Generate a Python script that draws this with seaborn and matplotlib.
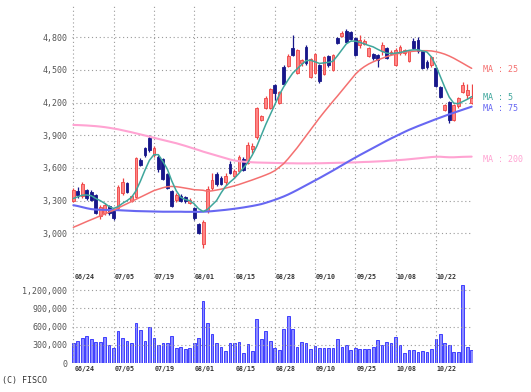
import numpy as np
import pandas as pd
import matplotlib
matplotlib.use("Agg")
import matplotlib.pyplot as plt
import seaborn as sns

# ---------------------------------------------------------------------------
# Data (daily candles, 06/24 .. 10/31)
# ---------------------------------------------------------------------------
tick_labels = ["06/24", "07/05", "07/19", "08/01", "08/15",
               "08/28", "09/10", "09/25", "10/08", "10/22"]
tick_index = [0, 9, 18, 27, 36, 45, 54, 63, 72, 81]

opens = [3300, 3385, 3340, 3395, 3382, 3352, 3155, 3185, 3250, 3200,
         3230, 3368, 3460, 3300, 3336, 3673, 3780, 3872, 3722, 3705,
         3680, 3545, 3390, 3306, 3345, 3330, 3280, 3230, 3085, 2900,
         3200, 3413, 3545, 3510, 3470, 3635, 3525, 3575, 3685, 3650,
         3770, 3885, 4040, 4150, 4150, 4360, 4200, 4530, 4540, 4698,
         4470, 4560, 4710, 4440, 4470, 4545, 4460, 4630, 4500, 4790,
         4815, 4860, 4850, 4790, 4730, 4740, 4630, 4650, 4637, 4670,
         4700, 4650, 4550, 4655, 4655, 4580, 4770, 4775, 4670, 4575,
         4545, 4515, 4345, 4135, 4205, 4040, 4165, 4300, 4270, 4195]
highs = [3420, 3425, 3475, 3410, 3400, 3362, 3262, 3276, 3262, 3212,
         3442, 3505, 3472, 3352, 3700, 3692, 3792, 3905, 3800, 3715,
         3690, 3555, 3400, 3370, 3360, 3345, 3320, 3242, 3095, 3120,
         3430, 3550, 3560, 3525, 3550, 3660, 3590, 3720, 3700, 3840,
         3830, 4160, 4090, 4260, 4335, 4370, 4310, 4545, 4645, 4821,
         4690, 4600, 4730, 4610, 4660, 4555, 4630, 4640, 4650, 4800,
         4860, 4873, 4860, 4800, 4820, 4780, 4710, 4660, 4645, 4760,
         4710, 4680, 4700, 4730, 4695, 4680, 4790, 4806, 4680, 4590,
         4630, 4525, 4355, 4185, 4215, 4185, 4250, 4390, 4375, 4370]
lows = [3290, 3320, 3325, 3310, 3292, 3178, 3128, 3170, 3170, 3120,
        3215, 3355, 3370, 3290, 3322, 3615, 3705, 3750, 3700, 3560,
        3490, 3405, 3245, 3290, 3285, 3275, 3270, 3120, 2990, 2865,
        3190, 3400, 3430, 3440, 3440, 3540, 3510, 3565, 3570, 3640,
        3740, 3870, 4030, 4140, 4140, 4225, 4190, 4360, 4530, 4625,
        4460, 4540, 4550, 4430, 4460, 4380, 4450, 4530, 4490, 4735,
        4800, 4750, 4775, 4630, 4700, 4730, 4620, 4590, 4530, 4640,
        4600, 4640, 4540, 4640, 4640, 4570, 4690, 4660, 4505, 4510,
        4530, 4340, 4240, 4120, 4010, 4030, 4155, 4290, 4230, 4185]
closes = [3395, 3350, 3455, 3322, 3306, 3190, 3245, 3260, 3184, 3140,
          3428, 3474, 3382, 3338, 3688, 3627, 3720, 3766, 3780, 3590,
          3500, 3413, 3255, 3352, 3292, 3295, 3302, 3140, 3005, 3100,
          3410, 3489, 3450, 3455, 3530, 3550, 3575, 3700, 3580, 3810,
          3800, 4148, 4078, 4240, 4322, 4285, 4295, 4372, 4628, 4640,
          4680, 4590, 4560, 4600, 4650, 4395, 4620, 4545, 4640, 4745,
          4840, 4760, 4785, 4640, 4775, 4770, 4700, 4610, 4591, 4730,
          4610, 4665, 4680, 4715, 4680, 4670, 4700, 4670, 4515, 4530,
          4620, 4350, 4255, 4175, 4040, 4175, 4240, 4360, 4315, 4240]

volumes = [336000, 363000, 416000, 443000, 405000, 347000, 347000, 427000, 293000, 245000,
           533000, 416000, 363000, 336000, 667000, 549000, 373000, 587000, 416000, 293000,
           336000, 336000, 453000, 256000, 267000, 240000, 256000, 336000, 416000, 1029000,
           656000, 485000, 336000, 272000, 203000, 336000, 325000, 352000, 176000, 309000,
           203000, 720000, 405000, 522000, 367000, 258000, 215000, 570000, 770000, 570000,
           269000, 355000, 339000, 242000, 285000, 258000, 258000, 258000, 258000, 393000,
           269000, 301000, 215000, 258000, 242000, 242000, 242000, 269000, 377000, 301000,
           350000, 339000, 430000, 301000, 161000, 215000, 215000, 178000, 204000, 178000,
           231000, 404000, 484000, 339000, 301000, 188000, 178000, 1290000, 274000, 226000]

ma5 = [3320, 3335, 3350, 3352, 3345, 3320, 3300, 3275, 3245, 3228,
       3245, 3275, 3300, 3330, 3390, 3480, 3580, 3670, 3722, 3722,
       3660, 3590, 3480, 3390, 3330, 3310, 3300, 3270, 3225, 3200,
       3220, 3260, 3300, 3370, 3430, 3470, 3505, 3550, 3600, 3650,
       3720, 3800, 3900, 4000, 4090, 4180, 4270, 4345, 4410, 4470,
       4510, 4550, 4585, 4590, 4575, 4560, 4565, 4570, 4580, 4630,
       4685, 4740, 4765, 4765, 4755, 4740, 4725, 4712, 4690, 4670,
       4655, 4650, 4655, 4660, 4670, 4680, 4685, 4685, 4675, 4665,
       4620, 4540, 4440, 4340, 4250, 4195, 4190, 4210, 4230, 4255]
ma25 = [3055, 3072, 3090, 3108, 3125, 3142, 3160, 3177, 3195, 3212,
        3232, 3252, 3272, 3292, 3312, 3332, 3352, 3372, 3392, 3405,
        3418, 3428, 3430, 3428, 3422, 3415, 3408, 3400, 3398, 3395,
        3385, 3390, 3397, 3405, 3415, 3425, 3436, 3448, 3462, 3476,
        3490, 3505, 3520, 3536, 3553, 3575, 3606, 3640, 3685, 3735,
        3785, 3840, 3895, 3950, 4005, 4060, 4112, 4162, 4212, 4260,
        4310, 4360, 4410, 4460, 4500, 4530, 4555, 4575, 4592, 4607,
        4622, 4635, 4645, 4655, 4662, 4668, 4672, 4675, 4677, 4677,
        4675, 4668, 4658, 4645, 4628, 4608, 4585, 4562, 4538, 4515]
ma75 = [3258, 3250, 3240, 3230, 3222, 3218, 3216, 3215, 3214, 3213,
        3212, 3210, 3208, 3206, 3204, 3203, 3202, 3201, 3200, 3199,
        3198, 3198, 3198, 3198, 3198, 3197, 3197, 3197, 3197, 3198,
        3200, 3203, 3207, 3211, 3215, 3220, 3225, 3231, 3237, 3244,
        3251, 3259, 3268, 3280, 3293, 3307, 3322, 3338, 3356, 3376,
        3397, 3419, 3441, 3463, 3485, 3507, 3530, 3553, 3576, 3600,
        3624, 3648, 3672, 3695, 3718, 3740, 3762, 3784, 3806, 3828,
        3850, 3871, 3891, 3911, 3931, 3950, 3967, 3984, 4000, 4016,
        4032, 4048, 4063, 4078, 4093, 4107, 4121, 4135, 4149, 4163]
ma200 = [3995, 3994, 3992, 3990, 3987, 3984, 3980, 3975, 3969, 3962,
         3955, 3946, 3937, 3928, 3918, 3908, 3898, 3888, 3877, 3867,
         3857, 3847, 3837, 3827, 3815, 3803, 3790, 3777, 3764, 3750,
         3738, 3726, 3714, 3702, 3690, 3678, 3668, 3662, 3658, 3655,
         3652, 3650, 3649, 3648, 3647, 3646, 3645, 3644, 3643, 3643,
         3642, 3642, 3642, 3642, 3643, 3643, 3644, 3645, 3646, 3647,
         3648, 3649, 3650, 3651, 3653, 3655, 3656, 3658, 3660, 3662,
         3664, 3667, 3670, 3673, 3676, 3680, 3684, 3688, 3692, 3696,
         3700, 3703, 3703, 3700, 3698, 3698, 3700, 3702, 3703, 3704]

if __name__ == '__main__':
    df = pd.DataFrame({"open": opens, "high": highs, "low": lows, "close": closes,
                       "volume": volumes, "ma5": ma5, "ma25": ma25,
                       "ma75": ma75, "ma200": ma200})
    df["idx"] = np.arange(len(df))

    sns.set_style("white")
    plt.rcParams['font.family'] = ['DejaVu Sans Mono']

    W, H = 531, 392
    fig = plt.figure(figsize=(W / 100, H / 100), dpi=100)
    left, right = 72, 473
    ax = fig.add_axes([left / W, 1 - 268 / H, (right - left) / W, 264 / H])
    axv = fig.add_axes([left / W, 1 - 363.3 / H, (right - left) / W, 95.3 / H])

    grid_kw = dict(color="#9a9a9a", linestyle=(0, (1, 2.5)), linewidth=0.8)
    lab_col = "#555555"

    # candles
    up = df["close"] >= df["open"]
    face = np.where(up, "#ff8585", "#17178a")
    edge = np.where(up, "#ee4444", "#17178a")
    ax.vlines(df["idx"], df["low"], df["high"], colors=edge, linewidth=0.9, zorder=2)
    ax.bar(df["idx"], (df["close"] - df["open"]).abs().clip(lower=8),
           bottom=df[["open", "close"]].min(axis=1), width=0.62,
           color=face, edgecolor=edge, linewidth=0.6, zorder=3)

    # moving averages
    ma_styles = [("ma200", "#ffa3d2", 1.5, "MA : 200", -22),
                 ("ma75", "#6767f2", 1.5, "MA : 75", -19),
                 ("ma25", "#f47070", 1.1, "MA : 25", -15),
                 ("ma5", "#3fa69c", 1.1, "MA : 5", -6)]
    for col, color, lw, label, dy in ma_styles:
        sns.lineplot(x="idx", y=col, data=df, color=color, linewidth=lw, ax=ax, zorder=4)
        ax.text(91.5, df[col].iloc[-1] + dy, label, color=color, fontsize=6,
                va="center", ha="left", clip_on=False)

    ax.set_xlim(-0.3, 89.3)
    ax.set_ylim(2681, 5106)
    ax.set_yticks([3000, 3300, 3600, 3900, 4200, 4500, 4800])
    ax.set_yticklabels([f"{v:,}" for v in [3000, 3300, 3600, 3900, 4200, 4500, 4800]])
    ax.set_xticks(tick_index)
    ax.set_xticklabels([])
    ax.grid(True, **grid_kw)
    ax.set_xlabel("")
    ax.set_ylabel("")

    # volume
    sns.barplot(x="idx", y="volume", data=df, color="#8c8cff", saturation=1,
                edgecolor="#3e3eff", linewidth=0.7, width=0.6, ax=axv, zorder=2)
    axv.set_xlim(-0.3, 89.3)
    axv.set_ylim(0, 1.562e6)
    vt = [0, 300000, 600000, 900000, 1200000]
    axv.set_yticks(vt)
    axv.set_yticklabels([f"{v:,}" for v in vt])
    axv.set_xticks(tick_index)
    axv.set_xticklabels([])
    axv.grid(True, **grid_kw)
    axv.set_axisbelow(False)
    axv.set_xlabel("")
    axv.set_ylabel("")

    for a in (ax, axv):
        for s in a.spines.values():
            s.set_visible(False)
        a.tick_params(length=0, pad=3.5, labelsize=6, labelcolor=lab_col)

    # date labels above and below the volume panel
    for pos, lab in zip(tick_index, tick_labels):
        axv.text(pos + 0.2, 0.905, lab, transform=axv.get_xaxis_transform(),
                 fontsize=4.8, fontweight="bold", color="#333333", va="center", ha="left")
        axv.text(pos + 0.2, -0.06, lab, transform=axv.get_xaxis_transform(),
                 fontsize=4.8, fontweight="bold", color="#333333", va="center", ha="left",
                 clip_on=False)

    fig.text(2 / W, 1 - 381 / H, "(C) FISCO", fontsize=6, color="#333333",
             va="center", ha="left")

    fig.savefig("out.png", dpi=100, facecolor="white")
